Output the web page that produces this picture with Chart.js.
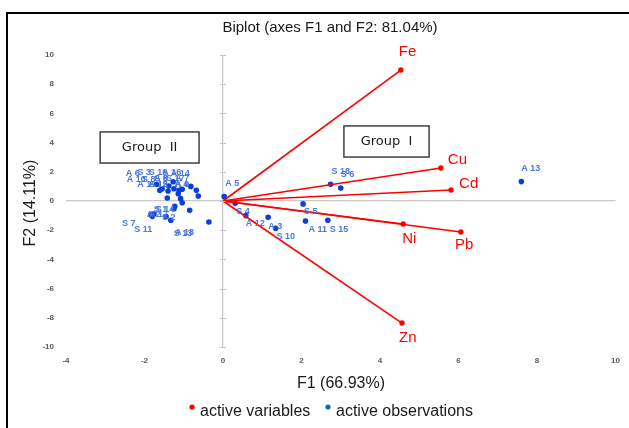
<!DOCTYPE html>
<html lang="en">
<head>
  <meta charset="UTF-8" />
  <title>Biplot (axes F1 and F2: 81.04%)</title>
  <script src="https://cdn.jsdelivr.net/npm/chart.js"></script>
  <style>
    body {
      margin: 0;
      background: #ffffff;
    }
    #wrap {
      width: 629px;
      height: 428px;
    }
  </style>
</head>
<body>
  <div id="wrap">
    <canvas id="biplot" width="629" height="428"></canvas>
  </div>

  <script>
    // active variables (loadings, scaled)
    const varNames = ['Fe', 'Cu', 'Cd', 'Ni', 'Pb', 'Zn'];
    const varF1 = [4.53, 5.55, 5.81, 4.59, 6.06, 4.56];
    const varF2 = [8.97, 2.26, 0.75, -1.58, -2.12, -8.36];

    // active observations
    const obsNames = [
      'A 5', 'S 4', 'A 12', 'A 3', 'S 10', 'S 5', 'A 11', 'S 15', 'S 18', 'S 6', 'A 13',
      'A 6', 'A 10', 'S 3', 'S 16', 'A 16', 'A 8', 'S 8', 'A 1', 'S 17', 'S 12', 'A 4',
      'A 15', 'S 9', 'A 14', 'A 7', 'A 9', 'S 1', 'A 17', 'S 14', 'S 13', 'A 18',
      'A 2', 'S 7', 'S 11', 'S 2'
    ];
    const obsF1 = [
      0.03, 0.31, 0.58, 1.15, 1.34, 2.04, 2.10, 2.67, 2.74, 3.00, 7.60,
      -1.69, -1.61, -1.55, -1.38, -1.27, -1.25, -1.40, -1.42, -1.12, -1.14, -1.04,
      -1.08, -1.04, -0.82, -0.68, -0.63, -1.23, -1.25, -0.85, -1.33, -0.36,
      -1.84, -1.76, -1.80, -1.45
    ];
    const obsF2 = [
      0.30, -0.16, -1.00, -1.12, -1.87, -0.20, -1.37, -1.32, 1.14, 0.89, 1.33,
      1.14, 0.73, 0.84, 1.03, 1.32, 0.84, 0.68, 0.21, 0.73, 0.50, 0.80,
      0.16, -0.12, 1.00, 0.73, 0.34, -0.36, -0.53, -0.64, -1.32, -1.44,
      -0.94, -0.89, -1.05, -1.07
    ];

    // where each observation name sits relative to its dot (px)
    const obsLabelShift = [
      [1, -13], [1, 8], [0, 8], [0, 9], [1, 8], [1, 8], [3, 9], [2, 9], [1, -13], [0, -13], [0, -13],
      [-31, -11], [-33, -11], [-25, -16], [-20, -13], [-11, -9], [-20, -10], [-26, -12], [-30, -13], [-13, -12], [-29, -9], [-8, -5],
      [-32, -14], [-28, -24], [-20, -13], [-21, -12], [-23, -12], [-21, 3], [-25, 6], [-34, -1], [3, 13], [-34, 10],
      [-4, 0], [-32, 10], [-18, 13], [-4, 1]
    ];
    const varLabelShift = [[-2, -18], [7, -8], [8, -6], [-1, 15], [-6, 13], [-3, 15]];

    const RED = '#ff0000';
    const DOT_BLUE = '#0b3fd8';
    const TXT_BLUE = '#4a78dc';
    const AXIS_GRAY = '#c8c8c8';
    const SANS = '"Liberation Sans", Arial, sans-serif';

    const datasets = varNames.map((name, i) => ({
      label: name,
      data: [{ x: 0, y: 0 }, { x: varF1[i], y: varF2[i] }],
      showLine: true,
      borderColor: RED,
      backgroundColor: RED,
      borderWidth: 1.6,
      pointRadius: [0, 2.7],
      pointBorderWidth: 0
    }));
    datasets.push({
      label: 'observations',
      data: obsF1.map((x, i) => ({ x: x, y: obsF2[i] })),
      showLine: false,
      backgroundColor: DOT_BLUE,
      borderColor: DOT_BLUE,
      pointRadius: 2.8,
      pointBorderWidth: 0
    });

    const biplotDecor = {
      id: 'biplotDecor',
      beforeDraw(chart) {
        const c = chart.ctx;
        c.save();
        c.fillStyle = '#ffffff';
        c.fillRect(0, 0, chart.width, chart.height);
        // outer frame (top and left edges only are in view)
        c.strokeStyle = '#000000';
        c.lineWidth = 2;
        c.beginPath();
        c.moveTo(7, chart.height);
        c.lineTo(7, 13);
        c.lineTo(chart.width, 13);
        c.stroke();
        c.restore();
      },
      afterDatasetsDraw(chart) {
        const c = chart.ctx;
        const xs = chart.scales.x, ys = chart.scales.y;
        c.save();

        // small ticks on the vertical zero axis
        const x0 = xs.getPixelForValue(0);
        c.strokeStyle = AXIS_GRAY;
        c.lineWidth = 1;
        ys.ticks.forEach(t => {
          const py = Math.round(ys.getPixelForValue(t.value)) + 0.5;
          c.beginPath();
          c.moveTo(x0 - 3, py);
          c.lineTo(x0 + 3, py);
          c.stroke();
        });

        // observation names
        const obsMeta = chart.getDatasetMeta(varNames.length);
        c.font = 'bold 9px ' + SANS;
        c.fillStyle = TXT_BLUE;
        c.textAlign = 'left';
        c.textBaseline = 'middle';
        obsMeta.data.forEach((pt, i) => {
          const s = obsLabelShift[i];
          c.fillText(obsNames[i], pt.x + s[0], pt.y + s[1]);
        });

        // variable names
        c.font = '15px ' + SANS;
        c.fillStyle = RED;
        varNames.forEach((name, i) => {
          const pt = chart.getDatasetMeta(i).data[1];
          const s = varLabelShift[i];
          c.fillText(name, pt.x + s[0], pt.y + s[1]);
        });

        // group boxes
        const groups = [
          { text: 'Group  II', x1: -3.13, x2: -0.61, y1: 4.73, y2: 2.6 },
          { text: 'Group  I', x1: 3.08, x2: 5.25, y1: 5.14, y2: 3.01 }
        ];
        c.font = '13px "DejaVu Sans", Verdana, sans-serif';
        groups.forEach(g => {
          const l = xs.getPixelForValue(g.x1), r = xs.getPixelForValue(g.x2);
          const t = ys.getPixelForValue(g.y1), b = ys.getPixelForValue(g.y2);
          c.fillStyle = '#ffffff';
          c.fillRect(l, t, r - l, b - t);
          c.strokeStyle = '#404040';
          c.lineWidth = 1.5;
          c.strokeRect(l, t, r - l, b - t);
          c.fillStyle = '#1a1a1a';
          c.textAlign = 'center';
          c.fillText(g.text, (l + r) / 2, (t + b) / 2);
        });
        c.restore();
      },
      afterDraw(chart) {
        const c = chart.ctx;
        c.save();
        c.fillStyle = '#1a1a1a';
        c.textBaseline = 'middle';
        c.textAlign = 'center';

        c.font = '15px ' + SANS;
        c.fillText('Biplot (axes F1 and F2: 81.04%)', 330, 28);

        c.font = '16px ' + SANS;
        c.fillText('F1 (66.93%)', 341, 384);

        c.save();
        c.translate(31, 203);
        c.rotate(-Math.PI / 2);
        c.fillText('F2 (14.11%)', 0, 0);
        c.restore();

        // legend
        c.textAlign = 'left';
        c.font = '16px ' + SANS;
        c.fillStyle = RED;
        c.beginPath();
        c.arc(192, 407, 2.6, 0, Math.PI * 2);
        c.fill();
        c.fillStyle = '#1a1a1a';
        c.fillText('active variables', 200, 412);
        c.fillStyle = '#0070c0';
        c.beginPath();
        c.arc(328, 407, 2.6, 0, Math.PI * 2);
        c.fill();
        c.fillStyle = '#1a1a1a';
        c.fillText('active observations', 336, 412);
        c.restore();
      }
    };

    new Chart(document.getElementById('biplot').getContext('2d'), {
      type: 'scatter',
      data: { datasets: datasets },
      options: {
        responsive: false,
        animation: false,
        layout: { padding: { left: 8, top: 55, right: 13, bottom: 0 } },
        plugins: {
          legend: { display: false },
          title: { display: false },
          tooltip: { enabled: false }
        },
        scales: {
          x: {
            type: 'linear',
            min: -4,
            max: 10,
            afterFit: s => { s.height = 81; },
            border: { display: false },
            grid: {
              drawTicks: false,
              color: ctx => ctx.tick && ctx.tick.value === 0 ? AXIS_GRAY : 'rgba(0,0,0,0)',
              lineWidth: 1.3
            },
            ticks: {
              stepSize: 2,
              padding: 9,
              color: '#595959',
              font: { family: SANS, size: 8, weight: 'bold' }
            }
          },
          y: {
            type: 'linear',
            min: -10,
            max: 10,
            afterFit: s => { s.width = 58; },
            border: { display: false },
            grid: {
              drawTicks: false,
              color: ctx => ctx.tick && ctx.tick.value === 0 ? AXIS_GRAY : 'rgba(0,0,0,0)',
              lineWidth: 1.3
            },
            ticks: {
              stepSize: 2,
              padding: 12,
              color: '#595959',
              font: { family: SANS, size: 8, weight: 'bold' }
            }
          }
        }
      },
      plugins: [biplotDecor]
    });
  </script>
</body>
</html>
